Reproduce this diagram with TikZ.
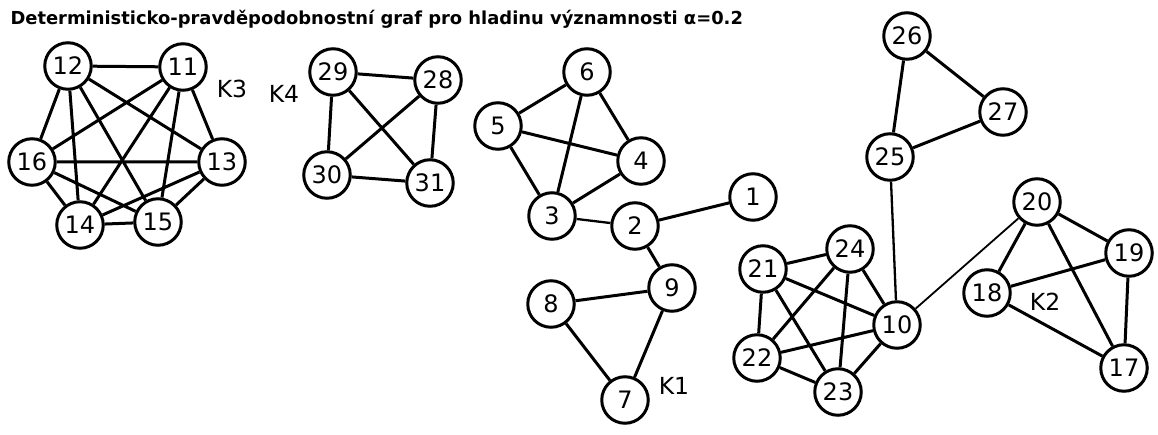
\documentclass[tikz,border=0pt]{standalone}
\usepackage{fontspec}
\setmainfont{DejaVu Sans}
\usepackage{tikz}

\begin{document}
\begin{tikzpicture}[x=1pt,y=-1pt,
          vrchol/.style={draw,circle,fill=white,line width=3pt,
                         minimum size=46.5pt,inner sep=0pt,font=\fontsize{24}{24}\selectfont},
          hrana/.style={line width=3pt},
          slaba/.style={line width=2.3pt},
          shluk/.style={font=\fontsize{23.5}{24}\selectfont}]
        \useasboundingbox (0,0) rectangle (1158,435);
        \node[anchor=base west,font=\bfseries\fontsize{17.9}{18}\selectfont](nadpis) at (7,25)
          {Deterministicko-pravděpodobnostní graf pro hladinu významnosti α=0.2};
        % shluk K3
        \node[vrchol](12) at (68,66) {12};
        \node[vrchol](11) at (183,67) {11};
        \node[vrchol](16) at (32,162) {16};
        \node[vrchol](13) at (222,162) {13};
        \node[vrchol](14) at (80,225) {14};
        \node[vrchol](15) at (158,222) {15};
        \node[shluk](k3) at (232,89) {K3};
        % shluk K4
        \node[vrchol](29) at (333,72) {29};
        \node[vrchol](28) at (438,80) {28};
        \node[vrchol](30) at (327,175) {30};
        \node[vrchol](31) at (430,183) {31};
        \node[shluk](k4) at (284,94) {K4};
        % shluk K1
        \node[vrchol](6) at (587,72) {6};
        \node[vrchol](5) at (498,126) {5};
        \node[vrchol](4) at (641,161) {4};
        \node[vrchol](3) at (552,216) {3};
        \node[vrchol](2) at (635,226) {2};
        \node[vrchol](1) at (753,197) {1};
        \node[vrchol](9) at (672,288) {9};
        \node[vrchol](8) at (551,304) {8};
        \node[vrchol](7) at (625,400) {7};
        \node[shluk](k1) at (674,386) {K1};
        % shluk okolo 10
        \node[vrchol](24) at (850,249) {24};
        \node[vrchol](21) at (763,269) {21};
        \node[vrchol](10) at (897,325) {10};
        \node[vrchol](22) at (757,358) {22};
        \node[vrchol](23) at (838,392) {23};
        \node[vrchol](26) at (907,36) {26};
        \node[vrchol](27) at (1003,112) {27};
        \node[vrchol](25) at (890,157) {25};
        % shluk K2
        \node[vrchol](20) at (1037,202) {20};
        \node[vrchol](19) at (1129,253) {19};
        \node[vrchol](18) at (987,293) {18};
        \node[vrchol](17) at (1124,368) {17};
        \node[shluk](k2) at (1045,302) {K2};
        % hrany
        \draw[hrana](12)--(11) (12)--(16) (12)--(14) (12)--(15) (12)--(13)
          (11)--(16) (11)--(14) (11)--(15) (11)--(13) (16)--(13) (16)--(14)
          (16)--(15) (14)--(15) (14)--(13) (13)--(15);
        \draw[hrana](29)--(28) (29)--(30) (29)--(31) (28)--(30) (28)--(31) (30)--(31);
        \draw[hrana](6)--(5) (6)--(3) (6)--(4) (5)--(4) (5)--(3) (4)--(3)
          (2)--(1) (2)--(9) (9)--(8) (9)--(7) (8)--(7);
        \draw[slaba](3)--(2);
        \draw[hrana](21)--(24) (21)--(22) (21)--(23) (21)--(10) (24)--(22)
          (24)--(23) (24)--(10) (22)--(23) (22)--(10) (23)--(10);
        \draw[hrana](25)--(26) (26)--(27) (27)--(25);
        \draw[slaba](25)--(10);
        \draw[line width=1.8pt](10)--(20);
        \draw[hrana](20)--(19) (20)--(18) (20)--(17) (19)--(18) (19)--(17) (18)--(17);
      \end{tikzpicture}
\end{document}
